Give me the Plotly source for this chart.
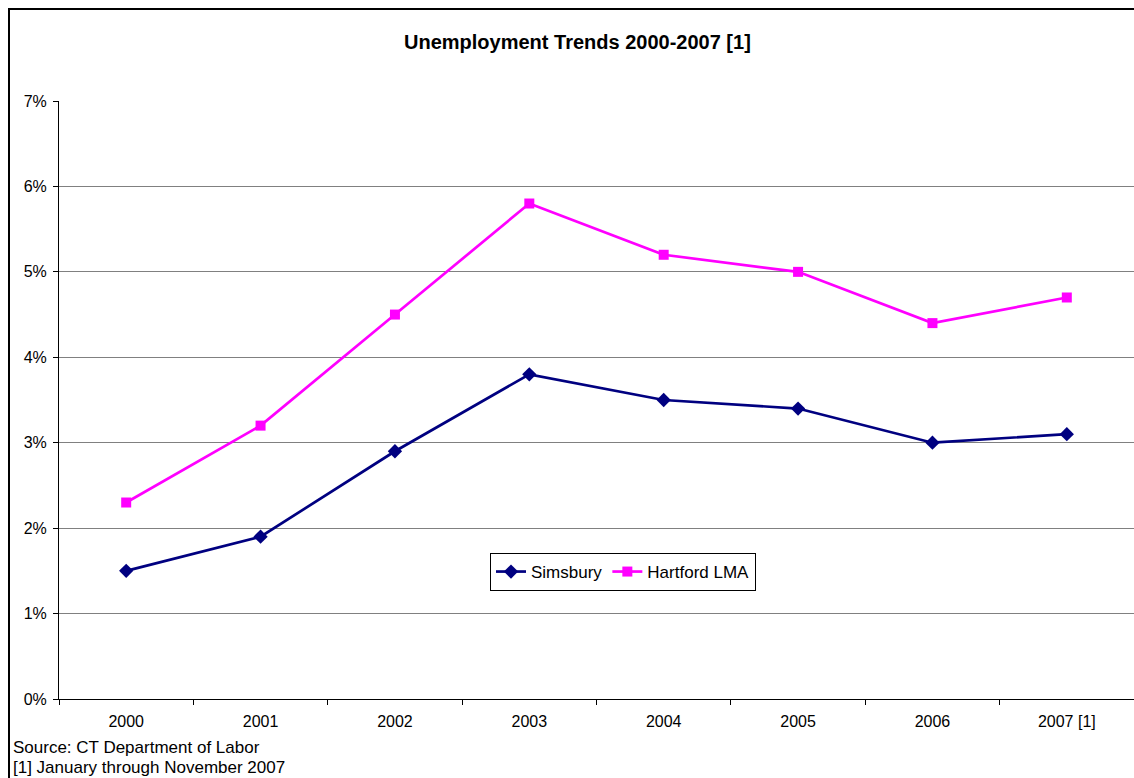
import plotly.graph_objects as go

years = ["2000", "2001", "2002", "2003", "2004", "2005", "2006", "2007 [1]"]
simsbury = [1.5, 1.9, 2.9, 3.8, 3.5, 3.4, 3.0, 3.1]
hartford = [2.3, 3.2, 4.5, 5.8, 5.2, 5.0, 4.4, 4.7]
ytick_vals = [0, 1, 2, 3, 4, 5, 6, 7]
ytick_text = ["0%", "1%", "2%", "3%", "4%", "5%", "6%", "7%"]

W, H = 1134, 778
L, R, T, B = 59, 0, 101, 79
pw, ph = W - L - R, H - T - B

def px(x):
    return (x - L) / pw

def py(y):
    return (H - B - y) / ph

fig = go.Figure()
fig.add_trace(go.Scatter(
    x=years, y=simsbury, name="Simsbury", mode="lines+markers",
    line=dict(color="#000080", width=2.7),
    marker=dict(symbol="diamond", size=11, color="#000080"),
))
fig.add_trace(go.Scatter(
    x=years, y=hartford, name="Hartford LMA", mode="lines+markers",
    line=dict(color="#FF00FF", width=2.7),
    marker=dict(symbol="square", size=10, color="#FF00FF"),
))

fig.update_layout(
    width=W, height=H,
    margin=dict(l=L, r=R, t=T, b=B),
    paper_bgcolor="white", plot_bgcolor="white",
    font=dict(family="Arial, Liberation Sans, sans-serif", size=16, color="black"),
    showlegend=True,
    legend=dict(
        orientation="h", x=px(623), y=py(572), xanchor="center", yanchor="middle",
        bordercolor="black", borderwidth=1, bgcolor="white",
        font=dict(size=17), itemwidth=30, tracegroupgap=0,
    ),
    xaxis=dict(
        type="category", range=[-0.5, 7.5], tickson="boundaries",
        ticks="outside", ticklen=5, tickcolor="black",
        showline=True, linecolor="black", linewidth=1,
        showgrid=False, tickfont=dict(size=16), fixedrange=True,
        ticklabelstandoff=8,
    ),
    yaxis=dict(
        range=[0, 7], tickvals=ytick_vals, ticktext=ytick_text,
        ticks="outside", ticklen=5, tickcolor="black",
        showline=True, linecolor="black", linewidth=1,
        showgrid=True, gridcolor="#808080", gridwidth=1,
        tickfont=dict(size=16), zeroline=False, ticklabelstandoff=3,
    ),
    shapes=[dict(
        type="rect", xref="paper", yref="paper",
        x0=px(9), y0=py(800), x1=px(1160), y1=py(9),
        line=dict(color="black", width=2), fillcolor="rgba(0,0,0,0)", layer="above",
    )],
    annotations=[
        dict(text="<b>Unemployment Trends 2000-2007 [1]</b>", xref="paper", yref="paper",
             x=px(577), y=py(42), xanchor="center", yanchor="middle",
             showarrow=False, font=dict(size=20)),
        dict(text="Source: CT Department of Labor", xref="paper", yref="paper",
             x=px(11), y=py(747), xanchor="left", yanchor="middle",
             showarrow=False, font=dict(size=17)),
        dict(text="[1] January through November 2007", xref="paper", yref="paper",
             x=px(11), y=py(767), xanchor="left", yanchor="middle",
             showarrow=False, font=dict(size=17)),
    ],
)

fig.write_html(
    "out.html",
    config={"displayModeBar": False},
    post_script="document.body.style.margin='0';"
                "document.documentElement.style.overflow='hidden';"
                "document.body.style.overflow='hidden';",
)
